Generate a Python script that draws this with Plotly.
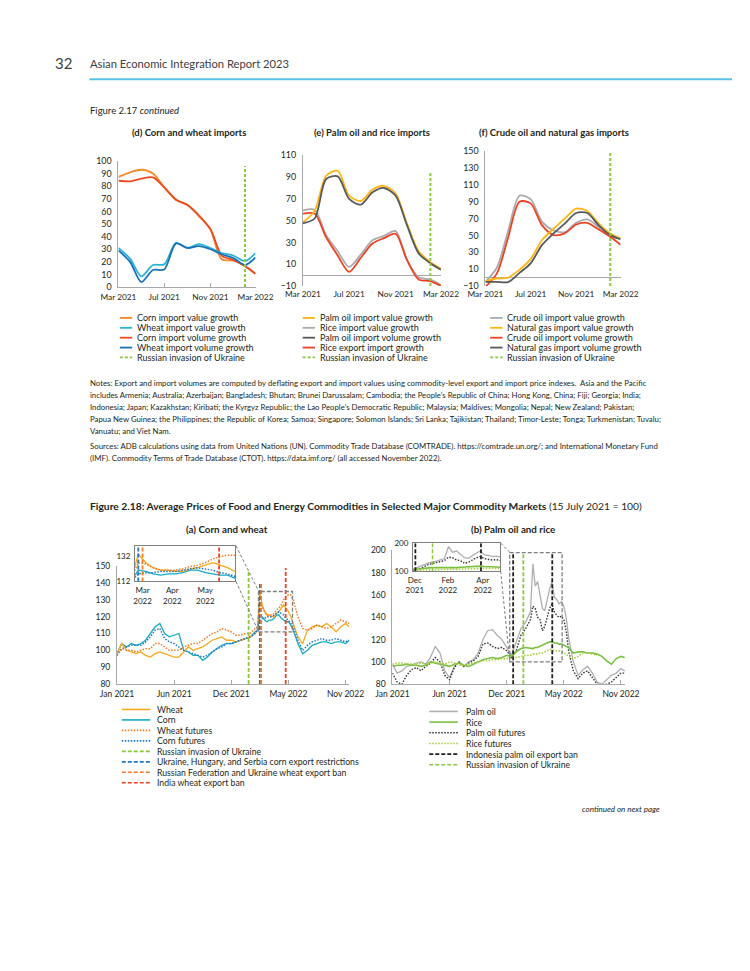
import plotly.graph_objects as go

W, H = 750, 971
def X(p): return p / W
def Y(p): return 1 - p / H

FONT = "Lato"
TXT = "#231F20"
AX = "#A7A9AC"

# ---------------- Figure 2.17 data (monthly) ----------------
months = ["2021-03-01", "2021-04-01", "2021-05-01", "2021-06-01", "2021-07-01", "2021-08-01",
          "2021-09-01", "2021-10-01", "2021-11-01", "2021-12-01", "2022-01-01", "2022-02-01", "2022-03-01"]
month_ticks = ["2021-03-01", "2021-07-01", "2021-11-01", "2022-03-01"]
month_ticktext = ["Mar 2021", "Jul 2021", "Nov 2021", "Mar 2022"]
invasion_217 = "2022-02-01"

corn_value = [87.4, 91, 93, 90, 79, 69, 65, 57, 45.5, 22, 21, 16.8, 10.5]
corn_volume = [84.3, 83.8, 86, 87, 79, 69.5, 65, 56.5, 46, 25, 21.5, 16.5, 10.5]
wheat_value = [31, 22.5, 8.5, 17.5, 18, 35, 31, 34, 31, 27, 25, 20.5, 27]
wheat_volume = [29, 20, 4, 13.5, 14, 34.5, 31, 32.5, 30, 26, 23, 17.5, 23.5]

palm_value = [48.4, 59, 91, 95.8, 73, 68, 78.6, 82, 75, 47.5, 22, 12, 6]
palm_volume = [47.5, 52, 88, 90.7, 70, 64.7, 76, 80, 73, 46, 20, 11, 5]
rice_value = [59.5, 60, 37, 22, 7.6, 19, 32, 36, 40.5, 14, -2, -4, -9]
rice_volume = [56.5, 56.5, 35, 18, 3, 16, 29, 34, 38, 14, -4, -5.4, -10]

crude_value = [-5, 12, 55, 97, 93, 66, 56, 54, 65, 69, 60, 48.5, 46.6]
crude_volume = [-11, 5, 47, 90, 88, 62, 50.5, 52.4, 63, 65, 57, 48.5, 39]
gas_value = [-4, -1, 0, 9.5, 22, 44.6, 58, 70, 81.7, 79, 64, 52.4, 46.6]
gas_volume = [-5, -5, -5.3, 5.6, 17, 38.8, 52.4, 64, 76.6, 76.6, 62, 50.5, 45.4]

# ---------------- Figure 2.18 data (sampled from daily series) ----------------
dates = ["2021-01-01", "2021-01-15", "2021-01-29", "2021-02-12", "2021-02-26", "2021-03-12",
         "2021-03-26", "2021-04-09", "2021-04-23", "2021-05-07", "2021-05-21", "2021-06-04",
         "2021-06-18", "2021-07-02", "2021-07-16", "2021-07-30", "2021-08-13", "2021-08-27",
         "2021-09-10", "2021-09-24", "2021-10-08", "2021-10-22", "2021-11-05", "2021-11-19",
         "2021-12-03", "2021-12-17", "2021-12-31", "2022-01-14", "2022-01-28", "2022-02-11",
         "2022-02-18", "2022-02-25", "2022-03-04", "2022-03-11", "2022-03-18", "2022-03-25",
         "2022-04-01", "2022-04-08", "2022-04-15", "2022-04-22", "2022-04-29", "2022-05-06",
         "2022-05-13", "2022-05-20", "2022-05-27", "2022-06-03",
         "2022-06-17", "2022-07-01", "2022-07-15", "2022-07-29", "2022-08-12", "2022-08-26",
         "2022-09-09", "2022-09-23", "2022-10-07", "2022-10-21", "2022-11-04", "2022-11-15"]

wheat = [98, 104, 100, 99, 98, 99, 97, 96, 98, 99, 98, 97, 96, 96, 99, 102, 100, 101, 102, 104,
         106, 107, 108, 106, 106, 105, 106, 107, 108, 110,
         112, 134, 127, 123, 121, 121, 120, 120, 122, 123, 125, 127, 125, 123, 120, 116,
         108, 104, 112, 114, 115, 114, 116, 114, 111, 114, 116, 114]
corn = [98, 104, 102, 104, 103, 104, 106, 110, 114, 116, 110, 108, 109, 110, 100, 99, 97, 97, 94, 96,
        99, 101, 103, 104, 104, 105, 106, 107, 108, 111,
        112, 121, 120, 118, 117, 118, 118, 119, 121, 121, 119, 118, 117, 117, 115, 112,
        104, 98, 100, 103, 104, 105, 105, 104, 105, 105, 104, 106]
wheat_futures = [97, 101, 100, 100, 99, 100, 101, 101, 104, 104, 102, 100, 100, 100, 102, 103, 104, 104, 106, 108,
                 110, 111, 113, 112, 111, 109, 109, 110, 110, 113,
                 114, 127, 126, 123, 121, 121, 121, 122, 124, 125, 127, 130, 132, 133, 133, 130,
                 120, 113, 112, 113, 115, 114, 113, 114, 116, 118, 117, 116]
corn_futures = [97, 101, 102, 103, 103, 103, 105, 108, 112, 113, 107, 105, 104, 102, 100, 99, 98, 97, 96, 97,
                99, 101, 102, 104, 104, 105, 106, 107, 108, 110,
                112, 118, 119, 119, 120, 120, 120, 121, 122, 123, 122, 121, 119, 118, 116, 114,
                106, 100, 103, 105, 106, 107, 106, 106, 107, 106, 105, 106]

palm_oil = [98, 90, 92, 96, 97, 99, 100, 98, 104, 114, 108, 92, 86, 96, 100, 96, 100, 102, 108, 120,
            128, 129, 124, 120, 113, 106, 118, 130, 136, 145,
            188, 168, 172, 160, 148, 146, 156, 165, 172, 158, 156, 152, 154, 150, 140, 122,
            100, 88, 93, 96, 90, 82, 80, 84, 88, 90, 94, 92]
palm_oil_futures = [90, 82, 80, 88, 93, 95, 92, 96, 99, 104, 100, 88, 84, 95, 100, 96, 99, 101, 105, 116,
                    117, 114, 112, 113, 110, 104, 110, 124, 130, 138,
                    150, 148, 140, 138, 128, 132, 140, 148, 152, 145, 142, 140, 141, 138, 128, 110,
                    92, 85, 90, 92, 86, 80, 79, 80, 82, 86, 90, 90]
rice = [96, 97, 97, 98, 97, 97, 96, 97, 100, 99, 98, 97, 96, 98, 99, 97, 96, 98, 100, 102,
        103, 104, 103, 104, 106, 105, 109, 112, 113, 112,
        112, 113, 113, 114, 115, 116, 117, 118, 118, 117, 117, 116, 116, 115, 114, 113,
        108, 109, 109, 108, 108, 107, 105, 101, 98, 103, 105, 104]
rice_futures = [98, 99, 99, 98, 98, 98, 99, 98, 99, 100, 99, 98, 100, 99, 97, 97, 98, 99, 100, 101,
                101, 102, 102, 103, 103, 104, 104, 105, 106, 106,
                107, 107, 107, 108, 108, 109, 110, 111, 111, 110, 110, 110, 109, 108, 107, 105,
                103, 105, 108, 108, 107, 106, None, None, None, None, None, None]

main_ticks = ["2021-01-01", "2021-06-18", "2021-12-03", "2022-05-20", "2022-11-04"]
main_ticktext = ["Jan 2021", "Jun 2021", "Dec 2021", "May 2022", "Nov 2022"]
inset_a_ticks = ["2022-03-01", "2022-03-29", "2022-04-29"]
inset_a_text = ["Mar<br>2022", "Apr<br>2022", "May<br>2022"]
inset_b_ticks = ["2021-12-21", "2022-02-17", "2022-04-19"]
inset_b_text = ["Dec<br>2021", "Feb<br>2022", "Apr<br>2022"]

ev_invasion_a = "2022-01-23"
ev_corn_restr = "2022-02-25"
ev_wheat_ban = "2022-03-01"
ev_india_ban = "2022-05-12"
ev_invasion_b = "2022-01-21"
ev_indonesia = ["2021-12-22", "2022-04-16"]

# colours
C_CORN_VAL = "#F58A2A"
C_CORN_VOL = "#EC4A21"
C_WHEAT_VAL = "#2DB3D6"
C_WHEAT_VOL = "#1B72B8"
C_YEL = "#FDB515"
C_LG = "#A9ABAE"
C_DG = "#58595B"
C_RED = "#EE4223"
C_GRN = "#8DC63F"

C_WHEAT = "#F7A81B"
C_CORN = "#19A9C6"
C_WFUT = "#F47B20"
C_CFUT = "#1F78C1"
C_PALM = "#ADAFB2"
C_RICE = "#7AC143"
C_PFUT = "#333333"
C_RFUT = "#A6CE39"
C_BLK = "#231F20"

fig = go.Figure()

def line(xa, ya, x, y, color, width=1.8, dash="solid", shape="spline"):
    fig.add_trace(go.Scatter(x=x, y=y, xaxis=xa, yaxis=ya, mode="lines",
                             line=dict(color=color, width=width, dash=dash, shape=shape,
                                       smoothing=0.8 if shape == "spline" else None),
                             hoverinfo="skip", showlegend=False))

# panel d
line("x", "y", months, corn_value, C_CORN_VAL)
line("x", "y", months, corn_volume, C_CORN_VOL)
line("x", "y", months, wheat_value, C_WHEAT_VAL)
line("x", "y", months, wheat_volume, C_WHEAT_VOL)
# panel e
line("x2", "y2", months, rice_value, C_LG)
line("x2", "y2", months, rice_volume, C_RED)
line("x2", "y2", months, palm_value, C_YEL)
line("x2", "y2", months, palm_volume, C_DG)
# panel f
line("x3", "y3", months, crude_value, C_LG)
line("x3", "y3", months, crude_volume, C_RED)
line("x3", "y3", months, gas_value, C_YEL)
line("x3", "y3", months, gas_volume, C_DG)

# panel a + inset
for xa, ya in (("x4", "y4"), ("x5", "y5")):
    line(xa, ya, dates, corn, C_CORN, 1.3, "solid", "linear")
    line(xa, ya, dates, wheat, C_WHEAT, 1.3, "solid", "linear")
    line(xa, ya, dates, corn_futures, C_CFUT, 1.5, "1.5px,1.5px", "linear")
    line(xa, ya, dates, wheat_futures, C_WFUT, 1.5, "1.5px,1.5px", "linear")
# panel b + inset
for xa, ya in (("x6", "y6"), ("x7", "y7")):
    line(xa, ya, dates, palm_oil, C_PALM, 1.3, "solid", "linear")
    line(xa, ya, dates, palm_oil_futures, C_PFUT, 1.4, "1.5px,1.5px", "linear")
    line(xa, ya, dates, rice, C_RICE, 1.6, "solid", "linear")
    line(xa, ya, dates, rice_futures, C_RFUT, 1.6, "1.5px,1.5px", "linear")

xtickfont = dict(family=FONT, size=8.3, color=TXT)
tickfont = dict(family=FONT, size=8.9, color=TXT)
tickfont2 = dict(family=FONT, size=8.5, color=TXT)
insetfont = dict(family=FONT, size=8, color=TXT)

def xaxis(dom, rng, tv, tt, anchor, font, showline=True, ticks="inside"):
    return dict(domain=[X(dom[0]), X(dom[1])], range=rng, type="date", tickmode="array",
                tickvals=tv, ticktext=tt, tickangle=0, anchor=anchor, showgrid=False, zeroline=False,
                showline=showline, linecolor=AX, linewidth=1, ticks=ticks, ticklen=4,
                tickcolor=AX, tickfont=font, ticklabelstandoff=2, fixedrange=True)

def yaxis(dom, rng, tv, anchor, font, zeroline=False):
    return dict(domain=[Y(dom[0]), Y(dom[1])], range=rng, tickmode="array", tickvals=tv,
                anchor=anchor, showgrid=False, zeroline=zeroline, zerolinecolor=AX,
                zerolinewidth=1, showline=True, linecolor=AX, linewidth=1, ticks="",
                tickfont=font, ticklabelstandoff=4, fixedrange=True)

mr = ["2021-03-01", "2022-03-01"]
layout = dict(
    width=W, height=H, margin=dict(l=0, r=0, t=0, b=0), paper_bgcolor="white",
    plot_bgcolor="rgba(0,0,0,0)", showlegend=False, font=dict(family=FONT, color=TXT),
    xaxis=xaxis((105.5, 249.5), mr, month_ticks, month_ticktext, "y", xtickfont),
    yaxis=yaxis((284.3, 156.7), [0, 100], list(range(0, 101, 10)), "x", tickfont),
    xaxis2=xaxis((299.3, 444.3), mr, month_ticks, month_ticktext, "y2", xtickfont, showline=False, ticks=""),
    yaxis2=yaxis((283.3, 151), [-10, 110], list(range(-10, 111, 20)), "x2", tickfont, zeroline=True),
    xaxis3=xaxis((491, 633), mr, month_ticks, month_ticktext, "y3", xtickfont, showline=False, ticks=""),
    yaxis3=yaxis((283.3, 146.7), [-10, 150], list(range(-10, 151, 20)), "x3", tickfont, zeroline=True),
    xaxis4=xaxis((104, 348), ["2021-01-01", "2022-11-15"], main_ticks, main_ticktext, "y4", tickfont2),
    yaxis4=yaxis((685.7, 566.7), [80, 150], list(range(80, 151, 10)), "x4", tickfont2),
    xaxis5=xaxis((123, 228), ["2022-02-22", "2022-05-27"], inset_a_ticks, inset_a_text, "y5", insetfont, ticks=""),
    yaxis5=yaxis((582, 546), [112, 140.6], [112, 132], "x5", insetfont),
    xaxis6=xaxis((393.3, 638), ["2021-01-01", "2022-11-17"], main_ticks, main_ticktext, "y6", tickfont2),
    yaxis6=yaxis((686, 550.7), [80, 200], list(range(80, 201, 20)), "x6", tickfont2),
    xaxis7=xaxis((415, 506.7), ["2021-12-18", "2022-05-20"], inset_b_ticks, inset_b_text, "y7", insetfont, ticks=""),
    yaxis7=yaxis((571.7, 543.3), [100, 200], [100, 200], "x7", insetfont),
)
# inset frames
for k in ("xaxis5", "yaxis5", "xaxis7", "yaxis7"):
    layout[k].update(mirror=True, linecolor="#7F7F7F", linewidth=1.2)
layout["yaxis5"]["ticklabelstandoff"] = 2
layout["yaxis7"]["ticklabelstandoff"] = 2
layout["xaxis5"]["ticklabelstandoff"] = 1
layout["xaxis7"]["ticklabelstandoff"] = 1

shapes = []
ann = []

def vline(xr, yr, x, y0, y1, color, dash="3px,2px", width=2):
    shapes.append(dict(type="line", xref=xr, yref=yr, x0=x, x1=x, y0=y0, y1=y1,
                       line=dict(color=color, width=width, dash=dash)))

# invasion lines fig 2.17
vline("x", "y", invasion_217, 0, 96, C_GRN)
vline("x2", "y2", invasion_217, -10, 94, C_GRN)
vline("x3", "y3", invasion_217, -10, 148, C_GRN)

# panel a events
vline("x4", "y4", ev_invasion_a, 80, 148, C_GRN, "4px,2px", 1.8)
vline("x4", "y4", ev_corn_restr, 80, 140.5, C_CFUT, "4px,2px", 1.8)
vline("x4", "y4", ev_wheat_ban, 80, 140.5, C_WFUT, "4px,2px", 1.8)
vline("x4", "y4", ev_india_ban, 80, 149, C_RED, "4px,2px", 1.8)
vline("x5", "y5", ev_corn_restr, 112, 140.6, C_CFUT, "4px,2px", 1.8)
vline("x5", "y5", ev_wheat_ban, 112, 140.6, C_WFUT, "4px,2px", 1.8)
vline("x5", "y5", ev_india_ban, 112, 140.6, C_RED, "4px,2px", 1.8)
# panel b events
vline("x6", "y6", ev_invasion_b, 80, 198, C_GRN, "4px,2px", 1.8)
for d in ev_indonesia:
    vline("x6", "y6", d, 80, 198, C_BLK, "4px,2px", 1.8)
    vline("x7", "y7", d, 100, 200, C_BLK, "4px,2px", 1.8)
vline("x7", "y7", ev_invasion_b, 100, 200, C_GRN, "4px,2px", 1.4)

# zoom boxes and connectors
GR = "#7F7F7F"
shapes.append(dict(type="rect", xref="x4", yref="y4", x0="2022-02-21", x1="2022-06-01", y0=111, y1=135,
                   line=dict(color=GR, width=1.3, dash="4px,2px")))
shapes.append(dict(type="rect", xref="x6", yref="y6", x0="2021-12-12", x1="2022-05-15", y0=100, y1=198,
                   line=dict(color=GR, width=1.3, dash="4px,2px")))
for (a, b, c, d) in ((229, 546, 252.7, 591.7), (229, 582, 252.7, 633),
                     (507, 543.3, 516.7, 552.7), (507, 571.7, 516.7, 664.3)):
    shapes.append(dict(type="line", xref="paper", yref="paper", x0=X(a), y0=Y(b), x1=X(c), y1=Y(d),
                       line=dict(color=GR, width=1, dash="3px,2px")))

# header
shapes.append(dict(type="line", xref="paper", yref="paper", x0=X(75), x1=X(750), y0=Y(74), y1=Y(74),
                   line=dict(color="#5BC2E7", width=2)))

def text(x, y, s, size, xanchor="left", color=TXT, yanchor="middle"):
    ann.append(dict(xref="paper", yref="paper", x=X(x), y=Y(y), text=s, showarrow=False,
                    xanchor=xanchor, yanchor=yanchor, align="left",
                    font=dict(family=FONT, size=size, color=color)))

text(37, 58, "32", 15, color="#414042")
text(74, 58, "Asian Economic Integration Report 2023", 11.2, color="#414042")
text(74, 106, "Figure 2.17 <i>continued</i>", 9.5)
text(180, 128, "<b>(d) Corn and wheat imports</b>", 9.5, "center")
text(372, 128, "<b>(e) Palm oil and rice imports</b>", 9.5, "center")
text(563, 128, "<b>(f) Crude oil and natural gas imports</b>", 9.5, "center")

def legend(x0, x1, tx, y, color, dash, width, s, size):
    shapes.append(dict(type="line", xref="paper", yref="paper", x0=X(x0), x1=X(x1), y0=Y(y), y1=Y(y),
                       line=dict(color=color, width=width, dash=dash)))
    text(tx, y, s, size)

rows = [315.5, 325.5, 335.5, 345.5, 355.5]
leg_d = [("Corn import value growth", C_CORN_VAL, "solid"), ("Wheat import value growth", C_WHEAT_VAL, "solid"),
         ("Corn import volume growth", C_CORN_VOL, "solid"), ("Wheat import volume growth", C_WHEAT_VOL, "solid"),
         ("Russian invasion of Ukraine", C_GRN, "3px,2px")]
leg_e = [("Palm oil import value growth", C_YEL, "solid"), ("Rice import value growth", C_LG, "solid"),
         ("Palm oil import volume growth", C_DG, "solid"), ("Rice export import growth", C_RED, "solid"),
         ("Russian invasion of Ukraine", C_GRN, "3px,2px")]
leg_f = [("Crude oil import value growth", C_LG, "solid"), ("Natural gas import value growth", C_YEL, "solid"),
         ("Crude oil import volume growth", C_RED, "solid"), ("Natural gas import volume growth", C_DG, "solid"),
         ("Russian invasion of Ukraine", C_GRN, "3px,2px")]
for items, x0 in ((leg_d, 107), (leg_e, 299), (leg_f, 496)):
    for (s, c, d), y in zip(items, rows):
        legend(x0, x0 + 13, x0 + 16, y, c, d, 1.8, s, 9)

notes = [
    "Notes: Export and import volumes are computed by deflating export and import values using commodity-level export and import price indexes.  Asia and the Pacific",
    "includes Armenia; Australia; Azerbaijan; Bangladesh; Bhutan; Brunei Darussalam; Cambodia; the People’s Republic of China; Hong Kong, China; Fiji; Georgia; India;",
    "Indonesia; Japan; Kazakhstan; Kiribati; the Kyrgyz Republic; the Lao People’s Democratic Republic; Malaysia; Maldives; Mongolia; Nepal; New Zealand; Pakistan;",
    "Papua New Guinea; the Philippines; the Republic of Korea; Samoa; Singapore; Solomon Islands; Sri Lanka; Tajikistan; Thailand; Timor-Leste; Tonga; Turkmenistan; Tuvalu;",
    "Vanuatu; and Viet Nam.",
]
for s, y in zip(notes, [381.5, 393.5, 405.5, 417.5, 429.5]):
    text(74, y, s, 7.8)
sources = [
    "Sources: ADB calculations using data from United Nations (UN). Commodity Trade Database (COMTRADE). https://comtrade.un.org/; and International Monetary Fund",
    "(IMF). Commodity Terms of Trade Database (CTOT). https://data.imf.org/ (all accessed November 2022).",
]
for s, y in zip(sources, [445, 457]):
    text(74, y, s, 7.8)

text(74, 506, "<b>Figure 2.18: Average Prices of Food and Energy Commodities in Selected Major Commodity Markets</b> (15 July 2021 = 100)", 10.3)
text(220, 529, "<b>(a) Corn and wheat</b>", 9.8, "center")
text(520, 529, "<b>(b) Palm oil and rice</b>", 9.8, "center")

leg_a = [("Wheat", C_WHEAT, "solid"), ("Corn", C_CORN, "solid"), ("Wheat futures", C_WFUT, "1.5px,1.5px"),
         ("Corn futures", C_CFUT, "1.5px,1.5px"), ("Russian invasion of Ukraine", C_GRN, "4px,2px"),
         ("Ukraine, Hungary, and Serbia corn export restrictions", C_CFUT, "4px,2px"),
         ("Russian Federation and Ukraine wheat export ban", C_WFUT, "4px,2px"),
         ("India wheat export ban", C_RED, "4px,2px")]
for i, (s, c, d) in enumerate(leg_a):
    legend(109, 139, 144, 711.5 + 10.6 * i, c, d, 1.6, s, 8.7)
leg_b = [("Palm oil", C_PALM, "solid"), ("Rice", C_RICE, "solid"), ("Palm oil futures", C_PFUT, "1.5px,1.5px"),
         ("Rice futures", C_RFUT, "1.5px,1.5px"), ("Indonesia palm oil export ban", C_BLK, "4px,2px"),
         ("Russian invasion of Ukraine", C_GRN, "4px,2px")]
for i, (s, c, d) in enumerate(leg_b):
    legend(432, 462, 468, 713.5 + 10.8 * i, c, d, 1.6, s, 8.7)

text(676, 812, "<i>continued on next page</i>", 8, "right")

layout["shapes"] = shapes
layout["annotations"] = ann
fig.update_layout(**layout)
fig.write_html("out.html", config={"displayModeBar": False},
               post_script="document.documentElement.style.margin='0';document.body.style.margin='0';"
                           "document.documentElement.style.overflow='hidden';document.body.style.overflow='hidden';")
